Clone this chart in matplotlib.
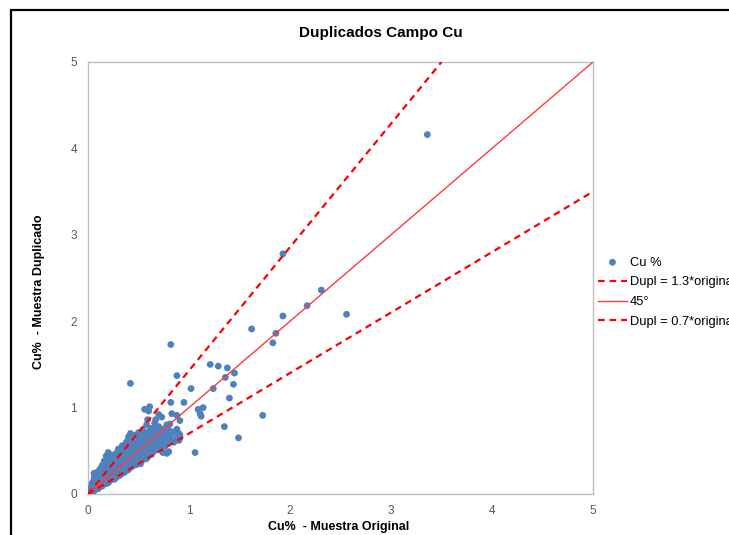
import matplotlib
matplotlib.use("Agg")
import matplotlib.pyplot as plt
from matplotlib.patches import Rectangle

plt.rcParams['font.family'] = ['Liberation Sans', 'DejaVu Sans']

# ---------------- data ----------------
# dense core of samples (original, duplicate)
core_x = [
    0.01, 0.01,
    0.02, 0.02, 0.02,
    0.03, 0.03, 0.03,
    0.04, 0.04, 0.04, 0.04,
    0.05, 0.05, 0.05, 0.05,
    0.06, 0.06, 0.06, 0.06, 0.06,
    0.07, 0.07, 0.07, 0.07,
    0.08, 0.08, 0.08, 0.08, 0.08,
    0.09, 0.09, 0.09, 0.09,
    0.10, 0.10, 0.10, 0.10, 0.10, 0.10,
    0.11, 0.11, 0.11, 0.11, 0.11,
    0.12, 0.12, 0.12, 0.12, 0.12,
    0.13, 0.13, 0.13, 0.13, 0.13,
    0.14, 0.14, 0.14, 0.14, 0.14, 0.14,
    0.15, 0.15, 0.15, 0.15,
    0.16, 0.16, 0.16, 0.16, 0.16, 0.16,
    0.17, 0.17, 0.17, 0.17, 0.17,
    0.18, 0.18, 0.18, 0.18, 0.18, 0.18,
    0.19, 0.19, 0.19, 0.19, 0.19,
    0.20, 0.20, 0.20, 0.20, 0.20, 0.20, 0.20,
    0.21, 0.21, 0.21, 0.21, 0.21,
    0.22, 0.22, 0.22, 0.22, 0.22, 0.22,
    0.23, 0.23, 0.23, 0.23, 0.23,
    0.24, 0.24, 0.24, 0.24, 0.24, 0.24,
    0.25, 0.25, 0.25, 0.25, 0.25,
    0.26, 0.26, 0.26, 0.26, 0.26, 0.26,
    0.27, 0.27, 0.27, 0.27, 0.27,
    0.28, 0.28, 0.28, 0.28, 0.28, 0.28,
    0.29, 0.29, 0.29, 0.29, 0.29,
    0.30, 0.30, 0.30, 0.30, 0.30, 0.30, 0.30,
    0.31, 0.31, 0.31, 0.31, 0.31,
    0.32, 0.32, 0.32, 0.32, 0.32, 0.32,
    0.33, 0.33, 0.33, 0.33, 0.33,
    0.34, 0.34, 0.34, 0.34, 0.34, 0.34, 0.34,
    0.35, 0.35, 0.35, 0.35, 0.35,
    0.36, 0.36, 0.36, 0.36, 0.36, 0.36,
    0.37, 0.37, 0.37, 0.37, 0.37, 0.37,
    0.38, 0.38, 0.38, 0.38, 0.38, 0.38,
    0.39, 0.39, 0.39, 0.39, 0.39,
    0.40, 0.40, 0.40, 0.40, 0.40, 0.40, 0.40,
    0.41, 0.41, 0.41, 0.41, 0.41,
    0.42, 0.42, 0.42, 0.42, 0.42, 0.42, 0.42,
    0.43, 0.43, 0.43, 0.43, 0.43,
    0.44, 0.44, 0.44, 0.44, 0.44, 0.44,
    0.45, 0.45, 0.45, 0.45, 0.45,
    0.46, 0.46, 0.46, 0.46, 0.46, 0.46,
    0.47, 0.47, 0.47, 0.47, 0.47,
    0.48, 0.48, 0.48, 0.48, 0.48, 0.48,
    0.49, 0.49, 0.49, 0.49, 0.49,
    0.50, 0.50, 0.50, 0.50, 0.50, 0.50, 0.50,
    0.51, 0.51, 0.51, 0.51,
    0.52, 0.52, 0.52, 0.52, 0.52, 0.52,
    0.53, 0.53, 0.53, 0.53,
    0.54, 0.54, 0.54, 0.54, 0.54,
    0.55, 0.55, 0.55, 0.55,
    0.56, 0.56, 0.56, 0.56, 0.56,
    0.57, 0.57, 0.57,
    0.58, 0.58, 0.58, 0.58, 0.58, 0.58,
    0.59, 0.59, 0.59,
    0.60, 0.60, 0.60, 0.60, 0.60,
    0.61, 0.61, 0.61,
    0.62, 0.62, 0.62, 0.62, 0.62,
    0.63, 0.63, 0.63,
    0.64, 0.64, 0.64,
    0.65, 0.65, 0.65, 0.65,
    0.66, 0.66, 0.66, 0.66,
    0.68, 0.68, 0.68, 0.68,
    0.70, 0.70, 0.70, 0.70, 0.70,
    0.72, 0.72, 0.72,
    0.74, 0.74, 0.74, 0.74,
    0.76, 0.76, 0.76,
    0.78, 0.78, 0.78, 0.78,
    0.80, 0.80, 0.80,
    0.82, 0.85, 0.85, 0.88, 0.88, 0.90, 0.90,
]
core_y = [
    0.01, 0.03,
    0.00, 0.02, 0.05,
    0.02, 0.04, 0.07,
    0.03, 0.05, 0.09, 0.12,
    0.02, 0.06, 0.08, 0.14,
    0.04, 0.07, 0.10, 0.19, 0.24,
    0.05, 0.08, 0.12, 0.16,
    0.06, 0.09, 0.11, 0.14, 0.21,
    0.07, 0.10, 0.13, 0.17,
    0.06, 0.09, 0.12, 0.15, 0.19, 0.26,
    0.08, 0.11, 0.14, 0.18, 0.22,
    0.09, 0.12, 0.16, 0.20, 0.29,
    0.10, 0.13, 0.15, 0.19, 0.24,
    0.09, 0.12, 0.17, 0.21, 0.27, 0.33,
    0.11, 0.14, 0.18, 0.23,
    0.12, 0.15, 0.20, 0.25, 0.30, 0.38,
    0.13, 0.17, 0.19, 0.22, 0.28,
    0.12, 0.16, 0.21, 0.24, 0.33, 0.44,
    0.14, 0.18, 0.22, 0.26, 0.30,
    0.13, 0.17, 0.20, 0.24, 0.28, 0.36, 0.48,
    0.15, 0.19, 0.23, 0.27, 0.32,
    0.16, 0.21, 0.25, 0.29, 0.34, 0.41,
    0.17, 0.20, 0.24, 0.31, 0.37,
    0.18, 0.22, 0.27, 0.30, 0.35, 0.45,
    0.19, 0.23, 0.26, 0.33, 0.39,
    0.17, 0.21, 0.28, 0.32, 0.36, 0.42,
    0.20, 0.25, 0.29, 0.34, 0.40,
    0.19, 0.24, 0.27, 0.31, 0.38, 0.47,
    0.22, 0.26, 0.30, 0.35, 0.41,
    0.21, 0.25, 0.29, 0.33, 0.37, 0.44, 0.52,
    0.23, 0.28, 0.32, 0.36, 0.40,
    0.22, 0.27, 0.31, 0.35, 0.39, 0.46,
    0.25, 0.29, 0.34, 0.38, 0.43,
    0.24, 0.28, 0.32, 0.37, 0.41, 0.49, 0.56,
    0.26, 0.30, 0.35, 0.39, 0.44,
    0.25, 0.31, 0.34, 0.38, 0.42, 0.47,
    0.28, 0.33, 0.36, 0.40, 0.45, 0.53,
    0.27, 0.32, 0.37, 0.41, 0.46, 0.60,
    0.29, 0.34, 0.39, 0.43, 0.48,
    0.28, 0.33, 0.38, 0.42, 0.45, 0.51, 0.66,
    0.30, 0.35, 0.40, 0.44, 0.49,
    0.31, 0.36, 0.41, 0.46, 0.52, 0.58, 0.70,
    0.33, 0.38, 0.43, 0.47, 0.55,
    0.32, 0.37, 0.42, 0.45, 0.50, 0.62,
    0.34, 0.40, 0.44, 0.48, 0.53,
    0.35, 0.39, 0.46, 0.51, 0.57, 0.68,
    0.36, 0.41, 0.45, 0.49, 0.54,
    0.34, 0.38, 0.43, 0.47, 0.52, 0.59,
    0.37, 0.42, 0.48, 0.53, 0.56,
    0.36, 0.40, 0.45, 0.50, 0.55, 0.63, 0.71,
    0.38, 0.44, 0.49, 0.54,
    0.35, 0.41, 0.47, 0.52, 0.58, 0.66,
    0.39, 0.46, 0.51, 0.56,
    0.42, 0.48, 0.53, 0.60, 0.74,
    0.40, 0.45, 0.50, 0.57,
    0.43, 0.49, 0.55, 0.62, 0.69,
    0.46, 0.52, 0.58,
    0.41, 0.47, 0.54, 0.60, 0.65, 0.80,
    0.50, 0.56, 0.62,
    0.44, 0.52, 0.58, 0.64, 0.72,
    0.48, 0.55, 0.61,
    0.51, 0.57, 0.63, 0.68, 0.76,
    0.46, 0.53, 0.60,
    0.55, 0.62, 0.66,
    0.49, 0.58, 0.64, 0.70,
    0.53, 0.61, 0.67, 0.82,
    0.56, 0.63, 0.69, 0.73,
    0.52, 0.60, 0.66, 0.71, 0.78,
    0.57, 0.64, 0.70,
    0.48, 0.62, 0.68, 0.75,
    0.55, 0.66, 0.72,
    0.47, 0.60, 0.70, 0.80,
    0.49, 0.64, 0.74,
    0.68, 0.60, 0.72, 0.65, 0.75, 0.62, 0.70,
]
# scattered samples away from the core
tail_x = [0.42, 0.56, 0.61, 0.60, 0.70, 0.73, 0.67, 0.59, 0.67, 0.81,
          0.82, 0.83, 0.88, 0.91, 0.91, 0.95, 0.88, 0.82, 0.83, 0.73,
          0.91, 1.02, 1.09, 1.14, 1.11, 1.12, 1.35, 1.49, 1.06, 1.21,
          1.29, 1.38, 1.45, 1.36, 1.44, 1.24, 1.40, 1.73, 1.62, 1.86,
          1.83, 1.93, 2.31, 2.17, 1.93, 2.56, 3.36]
tail_y = [1.28, 0.98, 1.01, 0.96, 0.92, 0.89, 0.86, 0.86, 0.79, 0.81,
          1.06, 0.93, 0.91, 0.85, 0.68, 1.06, 1.37, 1.73, 0.61, 0.64,
          0.65, 1.22, 0.98, 1.00, 0.93, 0.90, 0.78, 0.65, 0.48, 1.50,
          1.48, 1.46, 1.40, 1.35, 1.27, 1.22, 1.11, 0.91, 1.91, 1.86,
          1.75, 2.78, 2.36, 2.18, 2.06, 2.08, 4.16]

orig_cu = core_x + tail_x
dup_cu = core_y + tail_y

# reference lines
upper_x = [0, 3.5]
upper_y = [0, 5]
diag_x = [0, 5]
diag_y = [0, 5]
lower_x = [0, 5]
lower_y = [0, 3.5]

ticks = [0, 1, 2, 3, 4, 5]

# ---------------- figure ----------------
W, H = 729, 535
fig = plt.figure(figsize=(W / 100, H / 100), dpi=100)

# outer chart frame
fig.patches.append(Rectangle((11 / W, -0.05), 1.2, 1 - 10 / H + 0.05,
                             transform=fig.transFigure, fill=False,
                             edgecolor='black', linewidth=1.6, zorder=0))

ax = fig.add_axes([88 / W, 1 - 494 / H, (593 - 88) / W, (494 - 62) / H])

ax.scatter(orig_cu, dup_cu, s=24, color='#4F81BD', edgecolors='none',
           zorder=3, label='Cu %')
ax.plot(upper_x, upper_y, color='#FF0000', lw=1.6, dashes=(3, 2.2),
        label='Dupl = 1.3*original', zorder=4)
ax.plot(diag_x, diag_y, color='#FF3B3B', lw=1.0, label='45°', zorder=4)
ax.plot(lower_x, lower_y, color='#FF0000', lw=1.6, dashes=(3, 2.2),
        label='Dupl = 0.7*original', zorder=4)

ax.set_xlim(0, 5)
ax.set_ylim(0, 5)
ax.set_xticks(ticks)
ax.set_yticks(ticks)
ax.tick_params(length=0, labelsize=8.5, labelcolor='#595959', pad=8)
for sp in ax.spines.values():
    sp.set_color('#BFBFBF')
    sp.set_linewidth(1.0)

fig.text(381 / W, 1 - 33 / H, 'Duplicados Campo Cu', ha='center', va='center',
         fontsize=11, fontweight='bold')
fig.text(339 / W, 1 - 527 / H, 'Cu%  - Muestra Original', ha='center',
         va='center', fontsize=9, fontweight='bold')
fig.text(39 / W, 1 - 292 / H, 'Cu%  - Muestra Duplicado', ha='center',
         va='center', rotation=90, fontsize=9, fontweight='bold')

leg = ax.legend(loc='upper left', bbox_to_anchor=(595 / W, 1 - 254 / H),
                bbox_transform=fig.transFigure, frameon=False, fontsize=9.3,
                handlelength=2.3, labelspacing=0.6, handletextpad=0.2,
                borderaxespad=0, borderpad=0.2, scatterpoints=1)

fig.savefig('out.png', dpi=100)
